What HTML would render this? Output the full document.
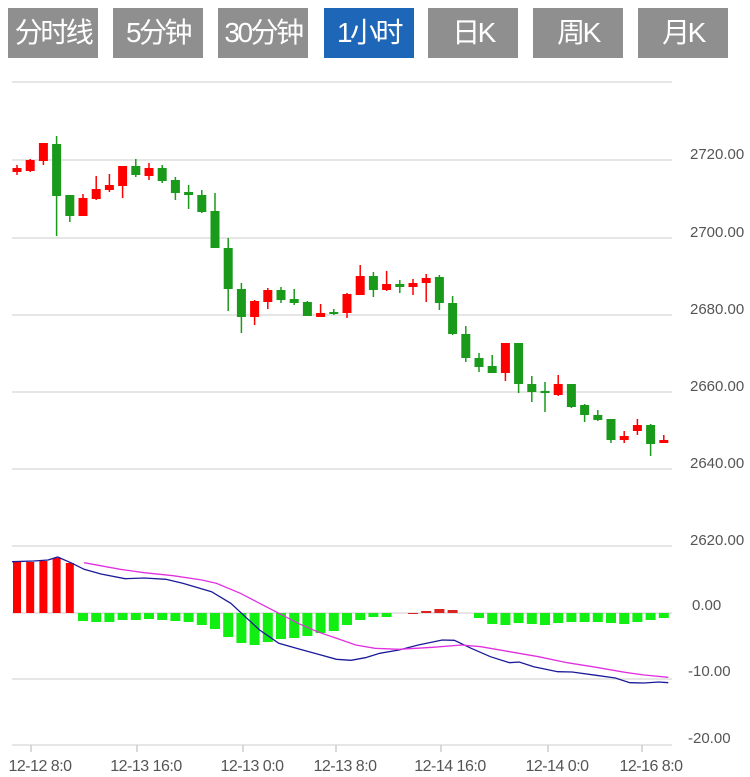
<!DOCTYPE html>
<html><head><meta charset="utf-8"><style>
body{margin:0;background:#fff;width:750px;height:777px;overflow:hidden;font-family:"Liberation Sans","Noto Sans CJK SC",sans-serif}
.b{position:absolute;top:8px;height:50px;width:90px;background:#8f8f8f;color:#fff;font-size:28px;line-height:50px;text-align:center;letter-spacing:-2.5px;white-space:nowrap}
.a{background:#1e66b8}
svg{position:absolute;left:0;top:0}
</style></head><body>
<div class="b" style="left:8px">分时线</div>
<div class="b" style="left:113px">5分钟</div>
<div class="b" style="left:218px">30分钟</div>
<div class="b a" style="left:324px">1小时</div>
<div class="b" style="left:428px">日K</div>
<div class="b" style="left:533px">周K</div>
<div class="b" style="left:638px">月K</div>
<svg id="s" width="750" height="777" xmlns="http://www.w3.org/2000/svg"></svg>
<script>
var o='';
[82,160,238,315,392,469,546,613,679,745].forEach(function(y){o+='<line x1="12" x2="672" y1="'+y+'" y2="'+y+'" stroke="#ddd" stroke-width="1.5"/>';});
var lab=[[2720,160],[2700,238],[2680,315],[2660,392],[2640,469],[2620,546]];
lab.forEach(function(l){o+='<text x="690" y="'+(l[1]-1)+'" font-size="15" fill="#555">'+l[0]+'.00</text>';});
o+='<text x="692" y="610" font-size="15" fill="#555">0.00</text><text x="688" y="676" font-size="15" fill="#555">-10.00</text><text x="688" y="743" font-size="15" fill="#555">-20.00</text>';
var c=[['r',168,172,165,175],['r',160,171,159,172],['r',143,161,143,165],['g',144,196,136,236],['g',195,216,195,222],['r',198,216,194,216],['r',189,199,176,200],['r',185,190,174,192],['r',166,186,166,198],['g',166,175,159,177],['r',168,176,163,180],['g',168,181,165,183],['g',180,193,177,200],['g',192,195,185,209],['g',195,212,190,213],['g',211,248,193,248],['g',248,289,238,311],['g',289,317,283,333],['r',301,317,300,325],['r',290,302,288,309],['g',290,300,287,303],['g',299,303,289,305],['g',302,316,301,316],['r',313,317,304,317],['g',312,314,309,315],['r',294,313,293,318],['r',276,295,265,295],['g',276,290,272,297],['r',284,290,271,291],['g',284,287,280,293],['r',283,287,279,295],['r',278,283,274,302],['g',277,303,275,310],['g',303,334,296,335],['g',334,358,326,362],['g',358,367,353,372],['g',366,373,355,373],['r',343,373,343,381],['g',343,384,343,393],['g',384,392,376,402],['g',391,393,382,412],['r',384,395,375,396],['g',384,407,384,408],['g',405,415,404,422],['g',415,420,410,421],['g',419,440,419,443],['r',436,440,431,443],['r',425,431,419,435],['g',425,444,424,456],['r',440,443,435,443]];
c.forEach(function(k,i){var x=17+13.2*i,col=k[0]=='r'?'#f00':'#1a9a1a';
o+='<line x1="'+x+'" x2="'+x+'" y1="'+k[3]+'" y2="'+k[4]+'" stroke="'+col+'" stroke-width="1.5"/>';
o+='<rect x="'+(x-4.5)+'" y="'+k[1]+'" width="9" height="'+Math.max(2,k[2]-k[1])+'" fill="'+col+'"/>';});
var h=[562,562,561,558,563,621,622,622,620,620,619,620,621,622,625,629,637,643,645,642,639,638,636,633,631,625,620,617,617,613,614,611,609,610,613,618,624,625,623,624,625,623,622,622,622,623,624,622,620,618];
h.forEach(function(v,i){if(Math.abs(v-613)<1)return;var x=17+13.2*i;var red=i<5||(i>=30&&i<=33);
var y=Math.min(v,613),hh=Math.abs(v-613);o+='<rect x="'+(x-(i<5?4:5))+'" y="'+y+'" width="'+(i<5?8:10)+'" height="'+hh+'" fill="'+(red?(i<5?'#f00':'#d22'):'#1e1')+'"/>';});
function pl(a,col){var p=[];for(var i=0;i<a.length;i+=2)p.push((a[i]/2.08).toFixed(1)+','+(530+a[i+1]/3).toFixed(1));o+='<polyline points="'+p.join(' ')+'" fill="none" stroke="'+col+'" stroke-width="1.3"/>';}
pl([25,95,70,93,100,90,120,81,150,100,175,118,210,132,260,146,300,144,345,148,380,160,440,185,480,220,510,260,540,300,580,340,620,356,660,372,700,388,730,391,760,383,790,370,830,360,870,345,920,330,945,331,980,355,1020,380,1060,398,1080,396,1110,410,1160,425,1190,426,1240,436,1280,444,1310,458,1340,459,1370,456,1390,458],'#1a1a9a');
pl([175,98,250,118,300,128,360,137,420,150,450,160,500,190,540,220,580,250,620,280,660,305,700,325,740,345,780,355,830,358,900,352,960,345,1000,350,1060,365,1120,380,1180,398,1240,412,1300,427,1340,435,1390,442],'#e030e0');
var t=[[31,'12-12 8:0'],[137,'12-13 16:0'],[243,'12-13 0:0'],[336,'12-13 8:0'],[441,'12-14 16:0'],[548,'12-14 0:0'],[642,'12-16 8:0']];
t.forEach(function(k){o+='<line x1="'+k[0]+'" x2="'+k[0]+'" y1="745" y2="752" stroke="#ccc" stroke-width="1.5"/><text x="'+(k[0]+9)+'" y="771" font-size="16" fill="#555" text-anchor="middle" letter-spacing="-0.5">'+k[1]+'</text>';});
document.getElementById('s').innerHTML=o;
</script>
</body></html>
